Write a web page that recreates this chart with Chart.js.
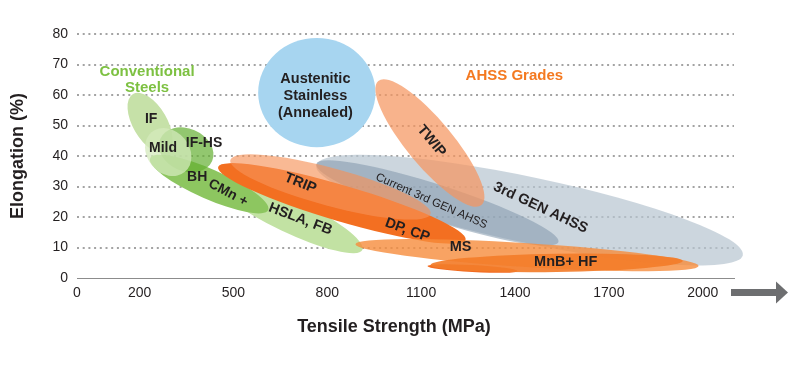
<!DOCTYPE html>
<html><head><meta charset="utf-8">
<script src="https://cdn.jsdelivr.net/npm/chart.js@4.4.1/dist/chart.umd.min.js"></script>
<style>html,body{margin:0;padding:0;background:#fff;}canvas{display:block;}</style>
</head><body>
<canvas id="c" width="800" height="366"></canvas>
<script>
// ---------- data ----------
const xTickValues = [0, 200, 500, 800, 1100, 1400, 1700, 2000];
const yTickValues = [0, 10, 20, 30, 40, 50, 60, 70, 80];

// Each steel-grade region: long axis from (strengthA, elongA) to (strengthB, elongB), half-thickness in % elongation
const regionNames     = ['Austenitic Stainless', '3rd GEN AHSS', 'Current 3rd GEN AHSS', 'TWIP', 'IF', 'HSLA, FB', 'CMn +', 'IF-HS', 'Mild', 'DP, CP', 'TRIP', 'MS (low)', 'MS', 'MnB+ HF'];
const regionStrengthA = [579, 765, 765, 963, 179, 442, 234, 266, 238, 451, 490, 1120, 890, 1130];
const regionElongA    = [60.8, 37.0, 37.4, 64.6, 60.3, 32.1, 39.3, 45.6, 47.8, 36.4, 38.7, 3.9, 11.1, 4.3];
const regionStrengthB = [954, 2128, 1539, 1293, 288, 912, 611, 432, 345, 1242, 1130, 1408, 1987, 1936];
const regionElongB    = [60.8, 7.5, 11.8, 23.9, 41.3, 9.2, 22.3, 38.4, 34.8, 12.5, 21.0, 2.3, 3.9, 5.6];
const regionHalfWidth = [17.9, 10.8, 5.9, 7.5, 5.6, 5.6, 4.9, 7.0, 6.9, 5.9, 6.2, 1.15, 3.9, 3.0];

const labelTexts    = ['Conventional\nSteels', 'AHSS Grades', 'Austenitic\nStainless\n(Annealed)', 'IF', 'Mild', 'IF-HS', 'BH', 'CMn +', 'HSLA, FB', 'TRIP', 'DP, CP', 'MS', 'MnB+ HF', 'Current 3rd GEN AHSS', '3rd GEN AHSS', 'TWIP'];
const labelStrength = [224, 1398, 762, 237, 275, 406, 384, 483, 714, 714, 1056, 1226, 1562, 1133, 1482, 1133];
const labelElong    = [65.1, 66.2, 59.7, 52.1, 42.6, 44.3, 33.1, 27.9, 19.3, 31.1, 15.7, 10.2, 5.2, 25.2, 23.0, 44.9];

// ---------- styles ----------
const FONT = "'Liberation Sans', Arial, Helvetica, sans-serif";
const regionFill = [
  'rgb(167,213,240)',          // Austenitic
  'rgba(182,196,208,0.7)',     // 3rd GEN
  'rgba(130,152,172,0.55)',    // Current 3rd GEN
  'rgba(245,150,95,0.72)',     // TWIP
  'rgb(198,225,168)',          // IF
  'rgb(194,226,163)',          // HSLA
  'rgb(141,198,96)',           // CMn
  'rgba(100,175,50,0.7)',      // IF-HS
  'rgba(212,233,188,0.75)',    // Mild
  'rgb(243,111,33)',           // DP, CP
  'rgba(246,146,88,0.64)',     // TRIP
  'rgb(242,107,33)',           // MS low tail
  'rgba(246,140,60,0.8)',      // MS
  'rgba(243,125,42,0.92)'      // MnB+HF
];
// [rotationDeg, weight, sizePx, color, lineHeight]
const labelStyle = [
  [0, 'bold', 15, '#7dc142', 16],
  [0, 'bold', 15, '#f47920', 16],
  [0, 'bold', 14.5, '#231f20', 17],
  [0, 'bold', 14, '#231f20', 16],
  [0, 'bold', 14, '#231f20', 16],
  [0, 'bold', 14, '#231f20', 16],
  [0, 'bold', 14, '#231f20', 16],
  [28, 'bold', 14, '#231f20', 16],
  [21, 'bold', 14.5, '#231f20', 16],
  [22, 'bold', 14.5, '#231f20', 16],
  [20, 'bold', 14.5, '#231f20', 16],
  [0, 'bold', 14.5, '#231f20', 16],
  [0, 'bold', 14.5, '#231f20', 16],
  [24, 'normal', 11.5, '#231f20', 14],
  [25, 'bold', 14.5, '#231f20', 16],
  [50, 'bold', 14.5, '#231f20', 16]
];

const regionPlugin = {
  id: 'regions',
  beforeDatasetsDraw(chart) {
    const {ctx, scales: {x, y}} = chart;
    const pxPerPct = Math.abs(y.getPixelForValue(0) - y.getPixelForValue(1));
    ctx.save();
    regionNames.forEach((n, i) => {
      const x1 = x.getPixelForValue(regionStrengthA[i]), y1 = y.getPixelForValue(regionElongA[i]);
      const x2 = x.getPixelForValue(regionStrengthB[i]), y2 = y.getPixelForValue(regionElongB[i]);
      const cx = (x1 + x2) / 2, cy = (y1 + y2) / 2;
      const a = Math.hypot(x2 - x1, y2 - y1) / 2;
      const b = regionHalfWidth[i] * pxPerPct;
      const ang = Math.atan2(y2 - y1, x2 - x1);
      ctx.beginPath();
      ctx.ellipse(cx, cy, a, b, ang, 0, Math.PI * 2);
      ctx.fillStyle = regionFill[i];
      ctx.fill();
    });
    ctx.restore();
  },
  afterDatasetsDraw(chart) {
    const {ctx, scales: {x, y}} = chart;
    ctx.save();
    ctx.textAlign = 'center';
    ctx.textBaseline = 'middle';
    labelTexts.forEach((t, i) => {
      const [rot, w, sz, col, lh] = labelStyle[i];
      const px = x.getPixelForValue(labelStrength[i]);
      const py = y.getPixelForValue(labelElong[i]);
      ctx.save();
      ctx.translate(px, py);
      ctx.rotate(rot * Math.PI / 180);
      ctx.font = `${w} ${sz}px ${FONT}`;
      ctx.fillStyle = col;
      const lines = t.split('\n');
      lines.forEach((ln, k) => {
        ctx.fillText(ln, 0, (k - (lines.length - 1) / 2) * lh);
      });
      ctx.restore();
    });
    ctx.restore();
  },
  afterDraw(chart) {
    const {ctx, chartArea} = chart;
    ctx.save();
    // x axis title
    ctx.font = `bold 18px ${FONT}`;
    ctx.fillStyle = '#231f20';
    ctx.textAlign = 'center';
    ctx.textBaseline = 'middle';
    ctx.fillText('Tensile Strength (MPa)', 394, 327);
    // arrow
    const ay = chartArea.bottom + 14.5;
    const ax = chartArea.right - 3;
    ctx.fillStyle = '#6d6e70';
    ctx.fillRect(ax, ay - 3.5, 46, 7);
    ctx.beginPath();
    ctx.moveTo(ax + 45, ay - 11);
    ctx.lineTo(ax + 57, ay);
    ctx.lineTo(ax + 45, ay + 11);
    ctx.closePath();
    ctx.fill();
    ctx.restore();
  }
};

new Chart(document.getElementById('c'), {
  type: 'scatter',
  data: {
    datasets: [{
      data: regionNames.map((n, i) => ({x: (regionStrengthA[i] + regionStrengthB[i]) / 2, y: (regionElongA[i] + regionElongB[i]) / 2})),
      pointRadius: 0, pointHoverRadius: 0
    }]
  },
  options: {
    responsive: false,
    animation: false,
    devicePixelRatio: 1,
    layout: {padding: {top: 34, right: 66, left: 0, bottom: 0}},
    plugins: {legend: {display: false}, tooltip: {enabled: false}},
    scales: {
      x: {
        type: 'linear', min: 0, max: 2100,
        afterBuildTicks(s) { s.ticks = xTickValues.map(v => ({value: v})); },
        afterFit(s) { s.height = 88; },
        grid: {display: false, drawTicks: false},
        border: {display: true, color: '#8c8c8c', width: 1},
        ticks: {padding: 7, color: '#231f20', font: {family: FONT, size: 14}, maxRotation: 0, autoSkip: false, callback: v => String(v)}
      },
      y: {
        type: 'linear', min: 0, max: 80,
        afterBuildTicks(s) { s.ticks = yTickValues.map(v => ({value: v})); },
        afterFit(s) { s.width = 77; },
        grid: {
          color: c => (c.tick && c.tick.value === 0) ? 'rgba(0,0,0,0)' : '#a3a3a3',
          lineWidth: 2, drawTicks: false
        },
        border: {display: false, dash: [2, 3.7]},
        ticks: {padding: 9, color: '#231f20', font: {family: FONT, size: 14}, callback: v => String(v)},
        title: {display: true, text: 'Elongation (%)', color: '#231f20', font: {family: FONT, size: 18, weight: 'bold'}, padding: {top: 7, bottom: 0}}
      }
    }
  },
  plugins: [regionPlugin]
});
</script>
</body></html>
